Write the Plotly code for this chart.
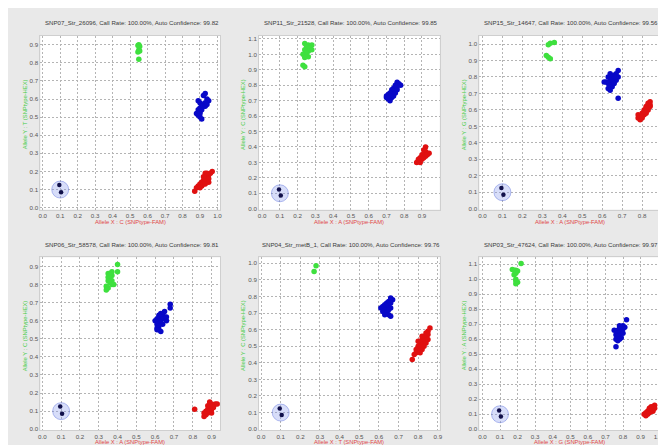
import plotly.graph_objects as go

# ---------------- data ----------------
titles = [
    "SNP07_Str_26096, Call Rate: 100.00%, Auto Confidence: 99.82",
    "SNP11_Str_21528, Call Rate: 100.00%, Auto Confidence: 99.85",
    "SNP15_Str_14647, Call Rate: 100.00%, Auto Confidence: 99.56",
    "SNP06_Str_58578, Call Rate: 100.00%, Auto Confidence: 99.81",
    "SNP04_Str_metB_1, Call Rate: 100.00%, Auto Confidence: 99.76",
    "SNP03_Str_47624, Call Rate: 100.00%, Auto Confidence: 99.97",
]
x_titles = [
    "Allele X : C (SNPtype-FAM)",
    "Allele X : A (SNPtype-FAM)",
    "Allele X : A (SNPtype-FAM)",
    "Allele X : A (SNPtype-FAM)",
    "Allele X : T (SNPtype-FAM)",
    "Allele X : G (SNPtype-FAM)",
]
y_titles = [
    "Allele Y : T (SNPtype-HEX)",
    "Allele Y : C (SNPtype-HEX)",
    "Allele Y : G (SNPtype-HEX)",
    "Allele Y : C (SNPtype-HEX)",
    "Allele Y : C (SNPtype-HEX)",
    "Allele Y : A (SNPtype-HEX)",
]

# panel 1
g1_x = [0.55, 0.545, 0.555, 0.55, 0.545, 0.555, 0.55]
g1_y = [0.90, 0.895, 0.89, 0.87, 0.86, 0.865, 0.82]
b1_x = [0.93, 0.92, 0.94, 0.95, 0.89, 0.90, 0.91, 0.92, 0.93, 0.91, 0.90, 0.89, 0.90, 0.88, 0.89, 0.90, 0.91, 0.92, 0.93, 0.94, 0.90, 0.91]
b1_y = [0.63, 0.62, 0.60, 0.59, 0.59, 0.58, 0.57, 0.57, 0.58, 0.56, 0.55, 0.54, 0.53, 0.52, 0.51, 0.50, 0.49, 0.56, 0.56, 0.57, 0.52, 0.54]
r1_x = [0.87, 0.88, 0.89, 0.90, 0.91, 0.91, 0.92, 0.92, 0.93, 0.93, 0.94, 0.94, 0.95, 0.95, 0.93, 0.96, 0.97, 0.94, 0.92, 0.95, 0.90, 0.93]
r1_y = [0.09, 0.11, 0.12, 0.13, 0.12, 0.14, 0.15, 0.13, 0.16, 0.14, 0.17, 0.15, 0.18, 0.16, 0.19, 0.19, 0.20, 0.19, 0.17, 0.14, 0.11, 0.13]

# panel 2
g2_x = [0.24, 0.26, 0.28, 0.25, 0.27, 0.24, 0.26, 0.28, 0.25, 0.23, 0.25, 0.26, 0.24, 0.23, 0.24]
g2_y = [1.07, 1.06, 1.06, 1.05, 1.04, 1.03, 1.02, 1.03, 1.01, 1.00, 0.99, 0.985, 0.98, 0.93, 0.92]
b2_x = [0.76, 0.77, 0.78, 0.75, 0.76, 0.74, 0.75, 0.73, 0.74, 0.72, 0.73, 0.71, 0.72, 0.70, 0.71, 0.72, 0.73, 0.74, 0.75, 0.76, 0.70, 0.71]
b2_y = [0.82, 0.81, 0.80, 0.80, 0.79, 0.78, 0.77, 0.77, 0.76, 0.75, 0.74, 0.74, 0.73, 0.72, 0.71, 0.70, 0.72, 0.73, 0.75, 0.77, 0.73, 0.72]
r2_x = [0.92, 0.91, 0.92, 0.93, 0.94, 0.91, 0.90, 0.92, 0.89, 0.90, 0.88, 0.89, 0.87, 0.91, 0.93, 0.88]
r2_y = [0.40, 0.38, 0.37, 0.36, 0.36, 0.35, 0.35, 0.34, 0.33, 0.32, 0.31, 0.30, 0.30, 0.33, 0.35, 0.32]

# panel 3
g3_x = [0.34, 0.36, 0.33, 0.32, 0.33, 0.34]
g3_y = [1.005, 1.01, 0.995, 0.93, 0.92, 0.91]
b3_x = [0.68, 0.67, 0.66, 0.68, 0.64, 0.65, 0.63, 0.66, 0.67, 0.64, 0.65, 0.62, 0.63, 0.64, 0.65, 0.63, 0.64, 0.66, 0.67, 0.68, 0.61]
b3_y = [0.84, 0.82, 0.81, 0.80, 0.82, 0.80, 0.80, 0.79, 0.78, 0.78, 0.77, 0.77, 0.76, 0.75, 0.74, 0.73, 0.72, 0.76, 0.80, 0.67, 0.77]
r3_x = [0.84, 0.83, 0.84, 0.82, 0.83, 0.84, 0.81, 0.82, 0.83, 0.80, 0.81, 0.82, 0.79, 0.80, 0.78, 0.79, 0.78, 0.81, 0.83, 0.80, 0.82]
r3_y = [0.65, 0.64, 0.63, 0.62, 0.61, 0.62, 0.60, 0.59, 0.60, 0.58, 0.57, 0.58, 0.56, 0.55, 0.55, 0.54, 0.57, 0.59, 0.63, 0.56, 0.61]

# panel 4
g4_x = [0.40, 0.40, 0.35, 0.36, 0.37, 0.35, 0.36, 0.37, 0.35, 0.36, 0.37, 0.38, 0.34, 0.35, 0.34, 0.36, 0.37]
g4_y = [0.91, 0.87, 0.86, 0.86, 0.85, 0.84, 0.83, 0.82, 0.82, 0.81, 0.80, 0.80, 0.79, 0.78, 0.77, 0.85, 0.87]
b4_x = [0.68, 0.68, 0.65, 0.63, 0.64, 0.62, 0.65, 0.63, 0.61, 0.64, 0.62, 0.60, 0.66, 0.63, 0.61, 0.64, 0.62, 0.61, 0.62, 0.63, 0.66, 0.61]
b4_y = [0.69, 0.67, 0.65, 0.64, 0.63, 0.63, 0.62, 0.62, 0.61, 0.61, 0.60, 0.60, 0.60, 0.59, 0.58, 0.58, 0.57, 0.56, 0.55, 0.54, 0.62, 0.55]
r4_x = [0.81, 0.86, 0.87, 0.88, 0.87, 0.88, 0.89, 0.88, 0.89, 0.90, 0.91, 0.92, 0.93, 0.90, 0.89, 0.91, 0.86, 0.90]
r4_y = [0.11, 0.07, 0.08, 0.09, 0.10, 0.11, 0.12, 0.13, 0.15, 0.14, 0.13, 0.14, 0.14, 0.11, 0.10, 0.12, 0.09, 0.09]

# panel 5
g5_x = [0.28, 0.27]
g5_y = [0.985, 0.95]
b5_x = [0.66, 0.67, 0.65, 0.66, 0.64, 0.65, 0.63, 0.64, 0.62, 0.61, 0.63, 0.62, 0.64, 0.65, 0.63, 0.66, 0.66, 0.65]
b5_y = [0.79, 0.78, 0.77, 0.76, 0.76, 0.75, 0.75, 0.74, 0.74, 0.73, 0.72, 0.71, 0.70, 0.69, 0.69, 0.68, 0.73, 0.72]
r5_x = [0.77, 0.86, 0.85, 0.84, 0.85, 0.83, 0.84, 0.82, 0.83, 0.81, 0.82, 0.80, 0.81, 0.79, 0.80, 0.79, 0.78, 0.82, 0.84, 0.83, 0.85, 0.80, 0.81, 0.82]
r5_y = [0.42, 0.61, 0.59, 0.58, 0.57, 0.56, 0.55, 0.54, 0.53, 0.52, 0.51, 0.50, 0.49, 0.48, 0.47, 0.46, 0.45, 0.48, 0.52, 0.50, 0.54, 0.53, 0.46, 0.56]

# panel 6
g6_x = [0.22, 0.17, 0.18, 0.19, 0.20, 0.19, 0.18, 0.19, 0.19, 0.20, 0.19]
g6_y = [1.105, 1.065, 1.06, 1.06, 1.055, 1.04, 1.03, 1.00, 0.99, 0.98, 0.97]
b6_x = [0.82, 0.80, 0.79, 0.78, 0.81, 0.80, 0.78, 0.77, 0.75, 0.79, 0.77, 0.76, 0.78, 0.77, 0.79, 0.76, 0.78, 0.77, 0.76, 0.80]
b6_y = [0.73, 0.69, 0.68, 0.69, 0.68, 0.67, 0.67, 0.66, 0.66, 0.65, 0.64, 0.63, 0.63, 0.62, 0.61, 0.60, 0.60, 0.59, 0.55, 0.64]
r6_x = [0.98, 0.97, 0.98, 0.96, 0.97, 0.95, 0.96, 0.94, 0.95, 0.93, 0.94, 0.92, 0.93, 0.97, 0.95, 0.96]
r6_y = [0.16, 0.15, 0.14, 0.14, 0.13, 0.13, 0.12, 0.12, 0.11, 0.11, 0.10, 0.10, 0.09, 0.12, 0.14, 0.15]

# no-template controls (same in each panel)
ntc_center_x = [0.1]
ntc_center_y = [0.1]
ntc_x = [0.095, 0.105]
ntc_y = [0.125, 0.085]

x_ranges = [[-0.013, 1.017], [-0.017, 1.0], [-0.015, 0.89], [-0.01, 0.947], [-0.01, 0.91], [-0.017, 1.011]]
y_ranges = [[-0.011, 0.949], [-0.006, 1.12], [-0.006, 1.05], [-0.005, 0.95], [-0.006, 1.036], [-0.006, 1.146]]
x_max_tick = [1.0, 0.9, 0.8, 0.9, 0.9, 1.0]
y_max_tick = [0.9, 1.1, 1.0, 0.9, 1.0, 1.1]

greens = [(g1_x, g1_y), (g2_x, g2_y), (g3_x, g3_y), (g4_x, g4_y), (g5_x, g5_y), (g6_x, g6_y)]
blues = [(b1_x, b1_y), (b2_x, b2_y), (b3_x, b3_y), (b4_x, b4_y), (b5_x, b5_y), (b6_x, b6_y)]
reds = [(r1_x, r1_y), (r2_x, r2_y), (r3_x, r3_y), (r4_x, r4_y), (r5_x, r5_y), (r6_x, r6_y)]

# ---------------- layout geometry (pixels) ----------------
W, H = 666, 445
col_px = [(30.7, 212), (251, 433), (473, 655)]
row_px = [(27, 202), (250, 424)]

GREEN = "#3ee03e"
BLUE = "#0808c8"
RED = "#e01010"
FONT = "Liberation Sans, Arial, sans-serif"

fig = go.Figure()
layout = dict(
    width=W, height=H,
    margin=dict(l=0, r=0, t=0, b=0),
    paper_bgcolor="#e9e9e9",
    plot_bgcolor="#ffffff",
    showlegend=False,
    font=dict(family=FONT, size=6, color="#555555"),
)
annotations = []

for i in range(6):
    r, c = divmod(i, 3)
    x0, x1 = col_px[c]
    y0, y1 = row_px[r]
    xd = [x0 / W, x1 / W]
    yd = [1 - y1 / H, 1 - y0 / H]
    k = "" if i == 0 else str(i + 1)
    xa, ya = "x" + k, "y" + k

    nx = int(round(x_max_tick[i] * 10)) + 1
    ny = int(round(y_max_tick[i] * 10)) + 1
    xt = [round(j * 0.1, 1) for j in range(nx)]
    yt = [round(j * 0.1, 1) for j in range(ny)]

    axcommon = dict(showgrid=True, gridcolor="#b4b4b4", griddash="2px,2px", gridwidth=0.8,
                    zeroline=False, showline=True, linecolor="#cfcfcf", linewidth=1, mirror=True,
                    ticks="", tickfont=dict(size=6.2, color="#555555", family=FONT))
    layout["xaxis" + k] = dict(domain=xd, anchor=ya, range=x_ranges[i], tickvals=xt,
                               ticktext=[f"{v:.1f}" for v in xt], **axcommon)
    layout["yaxis" + k] = dict(domain=yd, anchor=xa, range=y_ranges[i], tickvals=yt,
                               ticktext=[f"{v:.1f}" for v in yt], **axcommon)

    # NTC halo
    fig.add_trace(go.Scatter(x=ntc_center_x, y=ntc_center_y, mode="markers", xaxis=xa, yaxis=ya,
                             marker=dict(size=17, color="rgba(130,150,235,0.32)",
                                         line=dict(color="rgba(90,110,220,0.55)", width=0.8)),
                             hoverinfo="skip"))
    fig.add_trace(go.Scatter(x=ntc_x, y=ntc_y, mode="markers", xaxis=xa, yaxis=ya,
                             marker=dict(size=4.5, color="#10104a")))
    for (px, py), col in ((greens[i], GREEN), (blues[i], BLUE), (reds[i], RED)):
        fig.add_trace(go.Scatter(x=px, y=py, mode="markers", xaxis=xa, yaxis=ya,
                                 marker=dict(size=5.5, color=col, line=dict(width=0))))

    cx = (x0 + x1) / 2 / W
    annotations.append(dict(text=titles[i], x=(x0 + x1) / 2 / W + 0.002, y=1 - (y0 - 13) / H,
                            xref="paper", yref="paper", showarrow=False, xanchor="center",
                            yanchor="middle", font=dict(size=6.1, color="#3a3a3a", family=FONT)))
    annotations.append(dict(text=x_titles[i], x=cx, y=1 - (y1 + 12) / H, xref="paper", yref="paper",
                            showarrow=False, xanchor="center", yanchor="middle",
                            font=dict(size=5.8, color="#e04848", family=FONT)))
    annotations.append(dict(text=y_titles[i], x=(x0 - 16) / W, y=1 - ((y0 + y1) / 2 - 8) / H,
                            xref="paper", yref="paper", showarrow=False, textangle=-90,
                            xanchor="center", yanchor="middle",
                            font=dict(size=5.8, color="#44cc44", family=FONT)))

layout["annotations"] = annotations
fig.update_layout(**layout)
fig.write_html("out.html")
